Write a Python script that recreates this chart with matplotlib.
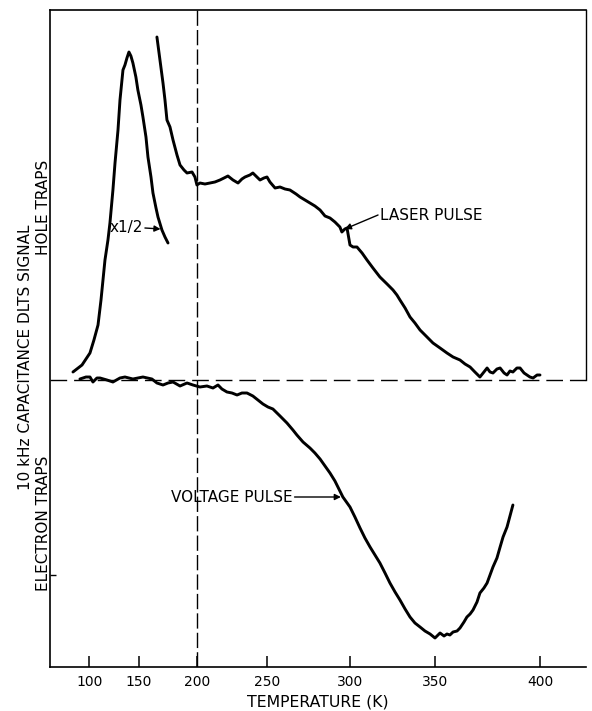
import numpy as np
import matplotlib
matplotlib.use("Agg")
import matplotlib.pyplot as plt

# ---------------- data (temperature in K, DLTS signal in arbitrary units) ----------------
# peak curve (scaled x1/2)
peak_T = [83.6, 92.7, 100.7, 104.7, 108.8, 111.8, 115.8, 118.8, 120.8, 123.8, 125.9, 128.9,
          130.9, 132.9, 133.9, 135.9, 137.9, 139.9, 141.9, 143.9, 146.9, 148.9, 151.7, 153.4,
          156.0, 157.7, 160.3, 162.0, 164.6, 166.3, 169.7, 172.3, 174.9]
peak_S = [0.8, 1.5, 2.7, 4.0, 5.5, 8.0, 12.0, 14.0, 15.7, 19.0, 21.7, 25.0,
          28.0, 30.0, 31.0, 31.5, 32.2, 32.8, 32.4, 31.7, 30.3, 29.0, 27.5, 26.3,
          24.3, 22.3, 20.3, 18.7, 17.2, 16.3, 15.0, 14.3, 13.7]

# laser pulse (hole traps)
laser_T = [165.4, 168.0, 170.6, 172.3, 174.0, 176.6, 179.2, 182.6, 185.2, 188.6, 191.2, 195.5,
           198.0, 199.7, 201.9, 205.5, 209.1, 212.6, 216.2, 219.1, 221.9, 225.5, 229.1, 231.9,
           234.1, 237.6, 239.7, 242.6, 244.8, 247.6, 249.8, 251.6, 254.7, 257.7, 260.7, 263.7,
           267.4, 269.8, 272.8, 275.8, 278.8, 281.9, 284.9, 287.9, 290.9, 293.9, 295.1, 296.9,
           298.2, 300.0, 301.8, 304.1, 307.1, 310.0, 313.5, 317.6, 321.8, 325.3, 327.6, 329.4,
           332.4, 335.3, 338.2, 341.2, 345.3, 348.8, 352.4, 355.7, 358.6, 361.9, 364.3, 366.7,
           369.0, 371.4, 373.3, 374.8, 376.2, 377.6, 379.5, 381.0, 382.9, 384.3, 385.7, 387.1,
           389.0, 390.5, 392.4, 393.8, 395.2, 396.7, 398.6, 400.0]
laser_S = [34.3, 32.0, 29.7, 28.0, 26.0, 25.3, 24.0, 22.5, 21.5, 21.0, 20.7, 20.8,
           20.3, 19.5, 19.7, 19.6, 19.7, 19.8, 20.0, 20.2, 20.4, 20.0, 19.7, 20.1,
           20.3, 20.5, 20.7, 20.3, 20.0, 20.2, 20.3, 19.8, 19.2, 19.3, 19.1, 19.0,
           18.6, 18.3, 18.0, 17.7, 17.4, 17.0, 16.4, 16.2, 15.8, 15.3, 14.8, 15.1,
           15.2, 13.5, 13.3, 13.3, 12.7, 12.0, 11.2, 10.3, 9.6, 9.0, 8.5, 8.0,
           7.2, 6.3, 5.7, 5.0, 4.3, 3.7, 3.2, 2.7, 2.3, 2.0, 1.6, 1.3,
           0.8, 0.3, 0.8, 1.2, 0.8, 0.7, 1.1, 1.2, 0.7, 0.5, 0.9, 0.8,
           1.2, 1.2, 0.7, 0.5, 0.3, 0.2, 0.5, 0.5]

# voltage pulse (electron traps)
volt_T = [90.6, 96.7, 100.7, 103.7, 107.7, 110.8, 117.8, 123.8, 130.9, 135.9, 143.9, 153.4,
          161.1, 165.4, 170.6, 174.9, 179.2, 185.2, 191.2, 196.3, 201.9, 206.9, 211.2, 214.8,
          217.6, 221.2, 224.8, 228.4, 231.9, 235.5, 239.7, 243.3, 246.9, 250.4, 253.4, 257.7,
          261.9, 265.5, 267.9, 271.6, 275.8, 278.8, 281.9, 284.9, 287.9, 290.9, 293.9, 295.7,
          300.0, 302.9, 305.9, 308.8, 311.8, 314.7, 317.6, 320.6, 323.5, 326.5, 329.4, 332.4,
          335.3, 338.2, 341.2, 344.1, 347.1, 350.0, 352.4, 354.3, 355.7, 357.1, 358.6, 360.5,
          361.9, 363.8, 365.2, 366.7, 368.1, 370.0, 371.4, 373.3, 374.8, 376.2, 377.6, 379.5,
          381.0, 382.4, 384.3, 385.7, 387.1]
volt_S = [0.1, 0.3, 0.3, -0.2, 0.2, 0.2, 0.0, -0.2, 0.2, 0.3, 0.1, 0.3,
          0.1, -0.3, -0.5, -0.3, -0.2, -0.6, -0.3, -0.5, -0.7, -0.6, -0.8, -0.5,
          -0.9, -1.2, -1.3, -1.5, -1.3, -1.3, -1.6, -2.0, -2.4, -2.7, -2.9, -3.6,
          -4.3, -5.0, -5.5, -6.2, -6.8, -7.3, -7.9, -8.6, -9.3, -10.1, -11.1, -11.7,
          -12.7, -13.7, -14.8, -15.8, -16.7, -17.5, -18.3, -19.3, -20.3, -21.2, -22.0, -22.9,
          -23.7, -24.3, -24.7, -25.1, -25.4, -25.8, -25.3, -25.6, -25.4, -25.5, -25.2, -25.1,
          -24.8, -24.2, -23.7, -23.4, -23.0, -22.2, -21.3, -20.8, -20.3, -19.5, -18.7, -17.8,
          -16.7, -15.7, -14.7, -13.6, -12.5]

x_ticks = [100, 150, 200, 250, 300, 350, 400]
x_tick_labels = ["100", "150", "200", "250", "300", "350", "400"]

# nonlinear temperature axis (calibrated from the original tick spacing)
AXIS_T = [50, 100, 150, 200, 250, 300, 350, 400, 450]
AXIS_POS = [39.6, 89.3, 139.0, 197.3, 267.3, 350.0, 435.0, 540.0, 645.0]


def fwd(t):
    return np.interp(np.asarray(t, dtype=float), AXIS_T, AXIS_POS)


def inv(p):
    return np.interp(np.asarray(p, dtype=float), AXIS_POS, AXIS_T)


W, H = 592, 711
fig = plt.figure(figsize=(W / 100, H / 100), dpi=100)
ax = fig.add_axes([50 / W, 1 - 667 / H, (586 - 50) / W, (667 - 10) / H])
ax.set_xscale("function", functions=(fwd, inv))
ax.set_xlim(60.5, 421.9)
ax.set_ylim(-28.7, 37.0)

lw = 2.1
ax.plot(peak_T, peak_S, color="black", lw=lw, solid_joinstyle="round", solid_capstyle="round")
ax.plot(laser_T, laser_S, color="black", lw=lw, solid_joinstyle="round", solid_capstyle="round")
ax.plot(volt_T, volt_S, color="black", lw=lw, solid_joinstyle="round", solid_capstyle="round")

# dashed reference lines
ax.axhline(0, color="black", lw=1.0, dashes=(12, 5))
ax.axvline(200, color="black", lw=1.0, dashes=(11, 3))

# axes styling
for s in ["left", "bottom", "top"]:
    ax.spines[s].set_linewidth(1.2)
ax.spines["right"].set_linewidth(1.0)
ax.spines["right"].set_bounds(0, 37.0)

ax.set_xticks(x_ticks)
ax.set_xticklabels(x_tick_labels)
ax.xaxis.set_minor_locator(matplotlib.ticker.NullLocator())
ax.tick_params(axis="x", direction="in", length=8, width=1.1, pad=6, labelsize=10)
ax.set_yticks([-19.5])
ax.set_yticklabels([])
ax.tick_params(axis="y", direction="in", length=4, width=1.0)

# annotations
arrow = dict(arrowstyle="-|>", color="black", lw=1.0, mutation_scale=9, shrinkA=0, shrinkB=0)
ax.annotate("", xy=(168.5, 15.1), xytext=(155.1, 15.2), arrowprops=arrow)
ax.text(120.8, 15.3, "x1/2", fontsize=11, va="center", ha="left")

ax.annotate("", xy=(296.9, 15.1), xytext=(316.5, 16.5), arrowprops=arrow)
ax.text(317.6, 16.5, "LASER PULSE", fontsize=11, va="center", ha="left")

ax.annotate("", xy=(294.5, -11.7), xytext=(266.5, -11.7), arrowprops=arrow)
ax.text(265.5, -11.7, "VOLTAGE PULSE", fontsize=11, va="center", ha="right")

# axis labels
fig.text(26 / W, 1 - 357 / H, "10 kHz CAPACITANCE DLTS SIGNAL", rotation=90,
         fontsize=11, ha="center", va="center")
fig.text(43.5 / W, 1 - 207 / H, "HOLE TRAPS", rotation=90, fontsize=11, ha="center", va="center")
fig.text(43.5 / W, 1 - 523 / H, "ELECTRON TRAPS", rotation=90, fontsize=11, ha="center", va="center")
fig.text(318 / W, 1 - 702 / H, "TEMPERATURE (K)", fontsize=11.3, ha="center", va="center")

fig.savefig("out.png", dpi=100)
